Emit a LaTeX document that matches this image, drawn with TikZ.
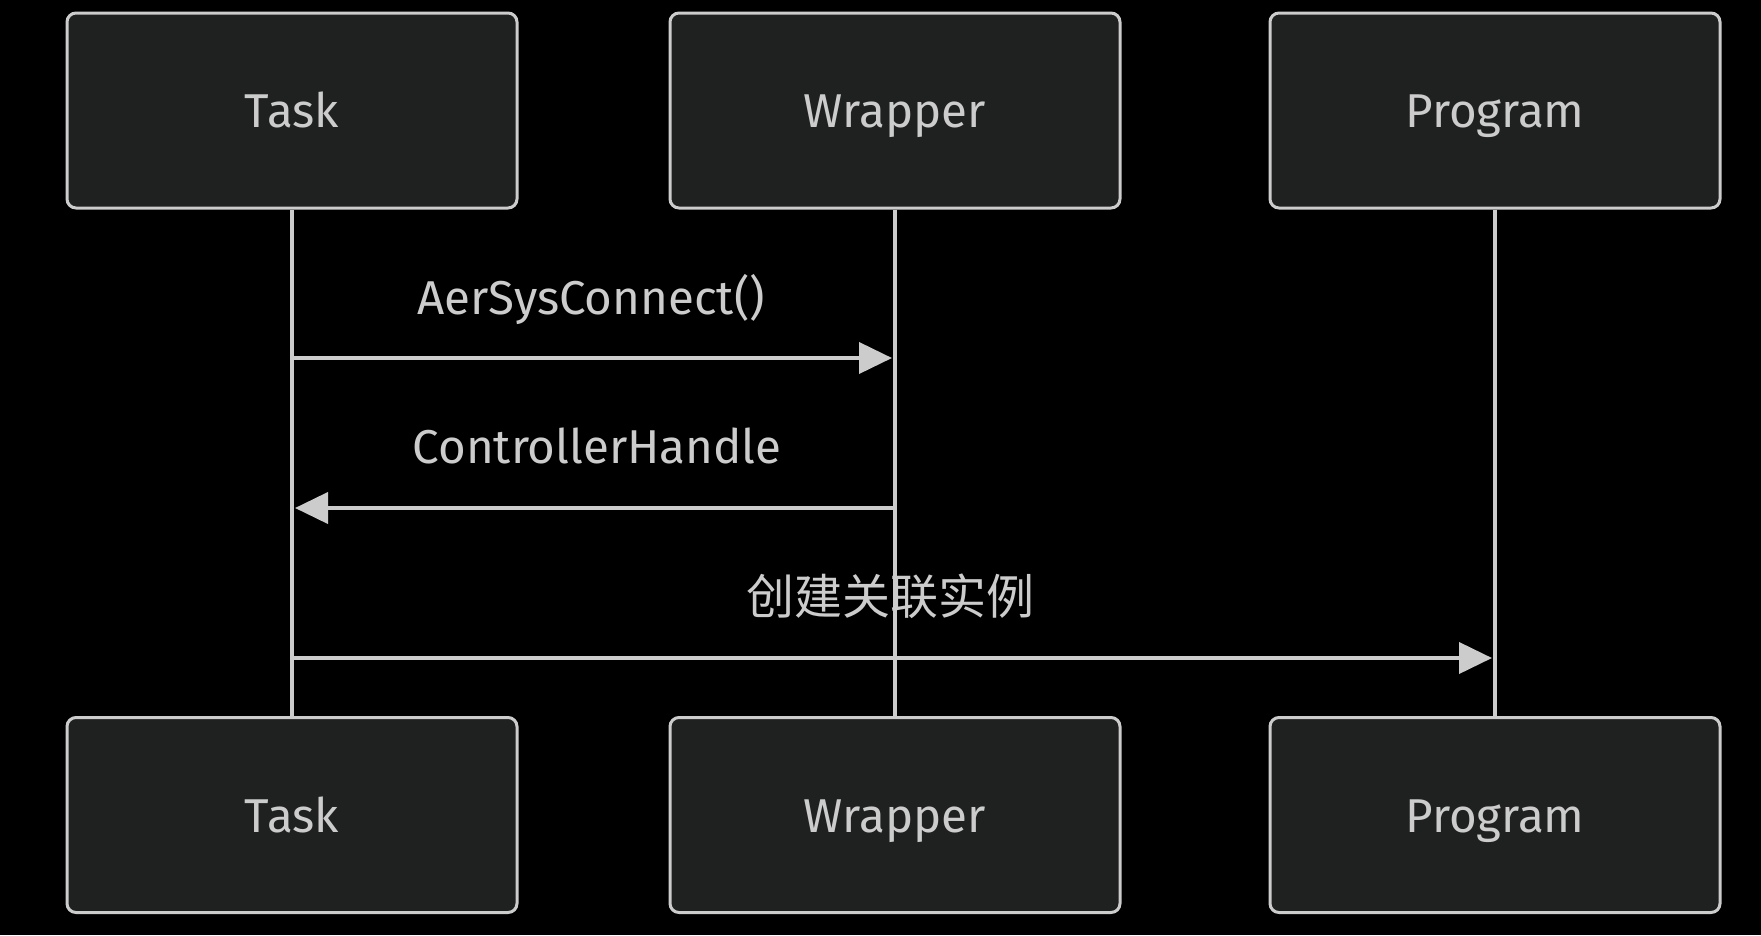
\documentclass[tikz,border=0pt]{standalone}
\usepackage{fontspec}
\setmainfont{Fira Sans}
\newfontfamily\cjk{Noto Sans CJK SC}
\usetikzlibrary{arrows.meta}
\definecolor{linec}{HTML}{CCCCCC}
\definecolor{txtc}{HTML}{CCCCCC}
\definecolor{boxfill}{HTML}{1F2020}
\tikzset{
  actor/.style={draw=linec, line width=3pt, fill=boxfill, rounded corners=9pt,
    minimum width=450pt, minimum height=195pt, inner sep=0pt},
  lbl/.style={text=txtc, font=\fontsize{47.5}{58}\selectfont, inner sep=0pt, anchor=base},
  lifeline/.style={draw=linec, line width=4.5pt},
  msg/.style={draw=linec, line width=4pt, shorten >=3pt,
    -{Triangle[length=33pt,width=31pt]}},
}
\begin{document}
\begin{tikzpicture}[x=1pt,y=-1pt]
\fill[black] (0,0) rectangle (1761,935);
\useasboundingbox (0,0) rectangle (1761,935);
% top actors
\node[actor] (T1) at (292,110.5) {};
\node[actor] (W1) at (895,110.5) {};
\node[actor] (P1) at (1495,110.5) {};
% bottom actors
\node[actor] (T2) at (292,815) {};
\node[actor] (W2) at (895,815) {};
\node[actor] (P2) at (1495,815) {};
% lifelines
\draw[lifeline] (T1.south) -- (T2.north);
\draw[lifeline] (W1.south) -- (W2.north);
\draw[lifeline] (P1.south) -- (P2.north);
% actor labels
\node[lbl] (tT1) at (292,127) {Task};
\node[lbl] (tW1) at (895,127) {Wrapper};
\node[lbl] (tP1) at (1495,127) {Program};
\node[lbl] (tT2) at (292,832) {Task};
\node[lbl] (tW2) at (895,832) {Wrapper};
\node[lbl] (tP2) at (1495,832) {Program};
% message coordinates
\coordinate (a1) at (T1.south |- 0,358);
\coordinate (b1) at (W1.south |- 0,358);
\coordinate (a2) at (W1.south |- 0,508);
\coordinate (b2) at (T1.south |- 0,508);
\coordinate (a3) at (T1.south |- 0,658);
\coordinate (b3) at (P1.south |- 0,658);
\draw[msg] (a1) -- (b1);
\draw[msg] (a2) -- (b2);
\draw[msg] (a3) -- (b3);
\node[lbl] (m1) at (591,314) {AerSysConnect()};
\node[lbl] (m2) at (597,463) {ControllerHandle};
\node[lbl,font=\cjk\fontsize{48}{58}\selectfont] (m3) at (890,614) {创建关联实例};
\end{tikzpicture}
\end{document}
